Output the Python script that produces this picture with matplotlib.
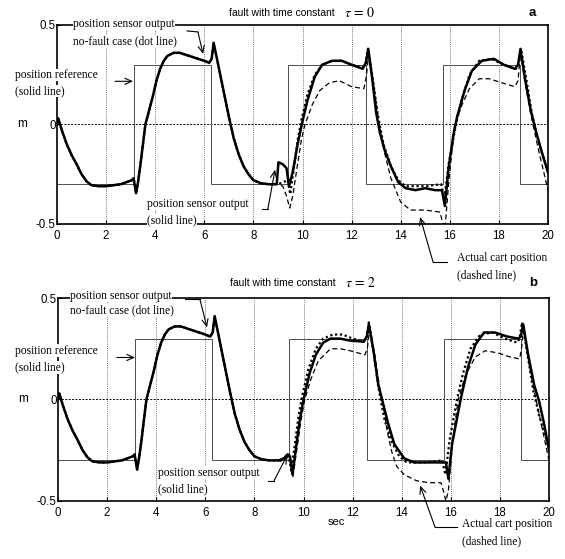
import matplotlib.pyplot as plt

plt.rcParams['font.family'] = ['Liberation Sans', 'DejaVu Sans']
plt.rcParams['mathtext.fontset'] = 'stix'

# position reference, square wave (sec, m)
ref_t = [0, 3.14, 6.28, 9.42, 12.57, 15.71, 18.85, 20]
ref_y = [-0.3, 0.3, -0.3, 0.3, -0.3, 0.3, -0.3, -0.3]

# sensor output, no-fault case (same in both panels)
nf_t = [0, 0.05, 0.2, 0.4, 0.6, 0.8, 1.0, 1.2, 1.4, 1.7, 2.0, 2.6, 3.05, 3.12,
        3.22, 3.3, 3.4, 3.5, 3.6, 3.75, 3.9, 4.05, 4.2, 4.35, 4.5, 4.75, 5.0,
        5.5, 6.0, 6.2, 6.3, 6.38, 6.5, 6.65, 6.8, 7.0, 7.2, 7.4, 7.6, 7.8, 8.0,
        8.3, 8.6, 9.0, 9.4, 9.5, 9.65, 9.8, 9.95, 10.2, 10.5, 10.8, 11.2, 11.6,
        12.0, 12.45, 12.58, 12.66, 12.85, 13.05, 13.3, 13.6, 13.9, 14.2, 15.0,
        15.65, 15.78, 15.95, 16.25, 16.5, 16.8, 17.2, 17.7, 18.2, 18.7, 18.8,
        18.9, 19.1, 19.35, 19.6, 20.0]
nf_y = [0.0, 0.03, -0.03, -0.1, -0.155, -0.2, -0.25, -0.285, -0.305, -0.31,
        -0.31, -0.3, -0.28, -0.27, -0.345, -0.29, -0.2, -0.1, 0.0, 0.07, 0.14,
        0.22, 0.28, 0.32, 0.345, 0.36, 0.36, 0.34, 0.32, 0.31, 0.33, 0.41, 0.34,
        0.25, 0.16, 0.04, -0.07, -0.15, -0.21, -0.25, -0.28, -0.295, -0.3, -0.3,
        -0.28, -0.35, -0.22, -0.08, 0.02, 0.15, 0.25, 0.3, 0.32, 0.32, 0.3,
        0.285, 0.31, 0.38, 0.24, 0.06, -0.1, -0.21, -0.28, -0.31, -0.31, -0.3,
        -0.37, -0.2, 0.0, 0.13, 0.25, 0.32, 0.33, 0.3, 0.28, 0.3, 0.38, 0.24,
        0.05, -0.08, -0.24]

# panel a (tau = 0): values after the fault appears
a_sens_t = [8.95, 9.02, 9.2, 9.35, 9.45, 9.6, 9.8, 9.97, 10.2, 10.5, 10.8, 11.2,
            11.6, 12.0, 12.45, 12.58, 12.68, 12.85, 13.0, 13.15, 13.35, 13.6,
            13.9, 14.2, 14.6, 15.0, 15.4, 15.68, 15.8, 15.95, 16.15, 16.3, 16.6,
            16.9, 17.3, 17.8, 18.2, 18.65, 18.78, 18.88, 19.05, 19.3, 19.5,
            19.75, 20.0]
a_sens_y = [-0.3, -0.19, -0.2, -0.22, -0.31, -0.24, -0.1, 0.0, 0.12, 0.24, 0.3,
            0.32, 0.32, 0.3, 0.28, 0.31, 0.38, 0.22, 0.06, -0.04, -0.13, -0.21,
            -0.29, -0.32, -0.33, -0.32, -0.33, -0.33, -0.41, -0.22, -0.05, 0.04,
            0.17, 0.27, 0.32, 0.33, 0.3, 0.28, 0.3, 0.38, 0.24, 0.07, -0.03,
            -0.14, -0.24]
a_cart_t = [9.0, 9.2, 9.35, 9.48, 9.6, 9.8, 9.95, 10.1, 10.4, 10.7, 11.1, 11.5,
            12.0, 12.5, 12.6, 12.7, 12.9, 13.1, 13.3, 13.6, 14.0, 14.4, 15.0,
            15.6, 15.72, 15.82, 15.95, 16.2, 16.5, 16.8, 17.2, 17.6, 18.1, 18.65,
            18.78, 18.88, 19.05, 19.3, 19.6, 20.0]
a_cart_y = [-0.3, -0.31, -0.36, -0.42, -0.36, -0.2, -0.08, 0.0, 0.1, 0.17, 0.21,
            0.22, 0.19, 0.18, 0.24, 0.36, 0.2, 0.02, -0.12, -0.27, -0.39, -0.43,
            -0.43, -0.44, -0.5, -0.5, -0.3, 0.0, 0.1, 0.18, 0.23, 0.23, 0.21,
            0.19, 0.22, 0.36, 0.22, 0.05, -0.12, -0.33]

# panel b (tau = 2)
b_sens_t = [9.2, 9.35, 9.45, 9.55, 9.68, 9.85, 10.0, 10.25, 10.5, 10.8, 11.1,
            11.5, 11.9, 12.45, 12.58, 12.66, 12.85, 13.05, 13.2, 13.45, 13.7,
            14.1, 14.5, 15.0, 15.5, 15.8, 15.9, 16.05, 16.4, 16.7, 17.0, 17.35,
            17.8, 18.3, 18.75, 18.85, 18.95, 19.15, 19.4, 19.6, 19.8, 20.0]
b_sens_y = [-0.29, -0.27, -0.28, -0.37, -0.25, -0.1, 0.0, 0.13, 0.22, 0.28, 0.3,
            0.3, 0.29, 0.285, 0.31, 0.37, 0.24, 0.07, 0.0, -0.12, -0.22, -0.29,
            -0.31, -0.31, -0.31, -0.31, -0.39, -0.22, 0.0, 0.16, 0.27, 0.33,
            0.33, 0.31, 0.3, 0.31, 0.37, 0.22, 0.07, -0.01, -0.12, -0.25]
b_cart_t = [9.3, 9.45, 9.57, 9.7, 9.9, 10.05, 10.3, 10.6, 11.1, 11.5, 11.9, 12.5,
            12.6, 12.7, 12.9, 13.1, 13.25, 13.4, 13.6, 13.8, 14.1, 14.6, 15.1,
            15.6, 15.72, 15.8, 15.9, 16.1, 16.3, 16.6, 17.0, 17.4, 17.9, 18.4,
            18.8, 18.88, 18.97, 19.15, 19.4, 19.7, 20.0]
b_cart_y = [-0.29, -0.3, -0.38, -0.27, -0.1, 0.0, 0.1, 0.19, 0.25, 0.25, 0.24,
            0.22, 0.25, 0.36, 0.22, 0.06, -0.03, -0.15, -0.26, -0.33, -0.37,
            -0.4, -0.41, -0.41, -0.46, -0.5, -0.45, -0.18, 0.0, 0.12, 0.21, 0.24,
            0.23, 0.21, 0.2, 0.25, 0.36, 0.2, 0.04, -0.13, -0.3]


def with_prefault(t, y):
    # before the fault the signal is the no-fault one
    pre = [(a, b) for a, b in zip(nf_t, nf_y) if a < t[0]]
    return [p[0] for p in pre] + list(t), [p[1] for p in pre] + list(y)


fig = plt.figure(figsize=(5.65, 5.59), dpi=100)
ax1 = fig.add_axes([0.1009, 0.5993, 0.869, 0.356])
ax2 = fig.add_axes([0.1027, 0.1038, 0.869, 0.3631])

serif = ['Liberation Serif', 'DejaVu Serif']
fs = 8.3


def setup(ax, sens, cart, tau, letter, title_y):
    ax.step(ref_t, ref_y, where='post', color='0.3', lw=0.7, zorder=2)
    ax.plot(nf_t, nf_y, color='k', lw=1.6, ls=(0, (1, 1.2)), zorder=3)
    ax.plot(*cart, color='k', lw=0.9, ls=(0, (4, 2.5)), zorder=4)
    ax.plot(*sens, color='k', lw=1.8, zorder=5)
    ax.set_xlim(0, 20)
    ax.set_ylim(-0.5, 0.5)
    ax.set_xticks(range(0, 21, 2))
    ax.set_yticks([-0.5, 0, 0.5])
    ax.set_yticklabels(['-0.5', '0', '0.5'])
    ax.tick_params(direction='in', length=3, labelsize=8.3, pad=1)
    ax.tick_params(axis='x', pad=4)
    for x in range(2, 20, 2):
        ax.axvline(x, color='0.2', lw=0.55, ls=(0, (1, 1.5)), zorder=1)
    ax.axhline(0, color='k', lw=0.7, ls=(0, (2, 1.5)), zorder=1)
    for s in ax.spines.values():
        s.set_linewidth(1.2)
    ax.text(11.3, title_y, 'fault with time constant', ha='right',
            va='center', fontsize=7.5)
    ax.text(11.7, title_y, '$\\tau\\,=\\,%d$' % tau, ha='left', va='center',
            fontsize=10)
    ax.text(19.35, title_y, letter, ha='center', va='center', fontsize=9.5,
            fontweight='bold')
    ax.text(-1.43, 0, 'm', ha='center', va='center', fontsize=8.5)


def note(ax, x, y, lines, dy):
    # white box so that spines and grid lines stop at the label
    for i, s in enumerate(lines):
        ax.text(x, y - i * dy, s, family=serif, fontsize=fs, va='center',
                ha='left', zorder=10, clip_on=False,
                bbox=dict(facecolor='white', edgecolor='none', pad=0.1))


def arrow(ax, pts):
    xs = [p[0] for p in pts]
    ys = [p[1] for p in pts]
    ax.plot(xs[:-1], ys[:-1], color='k', lw=0.8, clip_on=False, zorder=9)
    ax.annotate('', xy=pts[-1], xytext=pts[-2], annotation_clip=False,
                arrowprops=dict(arrowstyle='->,head_length=0.5,head_width=0.22',
                                lw=0.8, color='k', shrinkA=0, shrinkB=0),
                zorder=9)


# panel a
setup(ax1, with_prefault(a_sens_t, a_sens_y), with_prefault(a_cart_t, a_cart_y),
      0, 'a', 0.56)
note(ax1, 0.65, 0.505, ['position sensor output', 'no-fault case (dot line)'], 0.085)
arrow(ax1, [(5.30, 0.47), (5.74, 0.465), (5.95, 0.354)])
note(ax1, -1.71, 0.25, ['position reference', '(solid line)'], 0.083)
arrow(ax1, [(2.36, 0.217), (3.1, 0.217)])
note(ax1, 3.67, -0.40, ['position sensor output', '(solid line)'], 0.08)
arrow(ax1, [(8.35, -0.424), (8.59, -0.424), (8.88, -0.227)])
note(ax1, 16.29, -0.672, ['Actual cart position', '(dashed line)'], 0.086)
arrow(ax1, [(15.89, -0.692), (15.32, -0.692), (14.79, -0.465)])

# panel b
setup(ax2, with_prefault(b_sens_t, b_sens_y), with_prefault(b_cart_t, b_cart_y),
      2, 'b', 0.576)
note(ax2, 0.49, 0.512, ['position sensor output', 'no-fault case (dot line)'], 0.074)
arrow(ax2, [(5.17, 0.493), (5.78, 0.493), (6.07, 0.355)])
note(ax2, -1.75, 0.241, ['position reference', '(solid line)'], 0.083)
arrow(ax2, [(2.4, 0.207), (3.14, 0.207)])
note(ax2, 4.07, -0.36, ['position sensor output', '(solid line)'], 0.083)
arrow(ax2, [(8.55, -0.40), (8.8, -0.40), (9.33, -0.276)])
note(ax2, 16.46, -0.615, ['Actual cart position', '(dashed line)'], 0.086)
arrow(ax2, [(16.25, -0.63), (15.36, -0.63), (14.75, -0.424)])
ax2.text(11.36, -0.606, 'sec', ha='center', va='center', fontsize=8)

fig.savefig('out.png', dpi=100)
